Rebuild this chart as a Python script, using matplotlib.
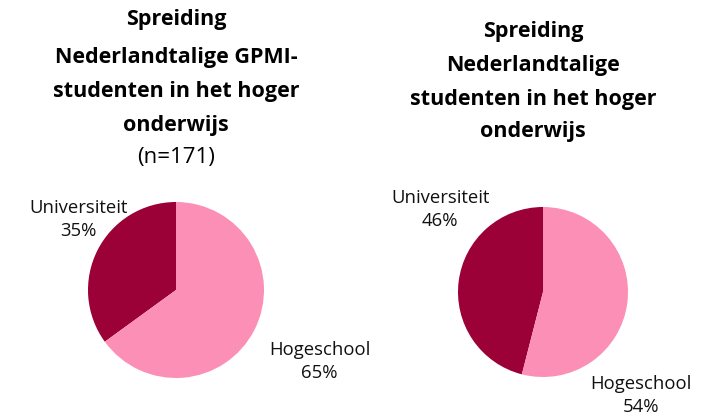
import matplotlib.pyplot as plt

plt.rcParams['font.family'] = ['Open Sans', 'Noto Sans', 'DejaVu Sans']

# data
categories = ['Universiteit', 'Hogeschool']
gpmi_share = [35, 65]
all_share = [46, 54]
colors = ['#9B0036', '#FC8FB5']

W, H = 709, 418
fig = plt.figure(figsize=(W / 100, H / 100), dpi=100)


def px_axes(cx, cy, r):
    # axes square around pie centre given in pixels (y from top)
    return fig.add_axes([(cx - r) / W, (H - cy - r) / H, 2 * r / W, 2 * r / H])


def draw_pie(ax, values, label_pos):
    ax.pie(values, colors=colors, startangle=90, counterclock=True,
           wedgeprops=dict(linewidth=0))
    ax.set_xlim(-1, 1)
    ax.set_ylim(-1, 1)
    ax.set_aspect('equal')
    for cat, val, (x, y) in zip(categories, values, label_pos):
        ax.text(x, y, f'{cat}\n{val}%', ha='center', va='center',
                fontsize=13.3, color='#111111', linespacing=1.35, clip_on=False)


ax1 = px_axes(176, 290, 88)
draw_pie(ax1, gpmi_share, [(-1.11, 0.80), (1.63, -0.81)])

ax2 = px_axes(543, 292, 85)
draw_pie(ax2, all_share, [(-1.21, 0.97), (1.15, -1.22)])

# titles, one line at a time
left_lines = ['Spreiding', 'Nederlandtalige GPMI-', 'studenten in het hoger', 'onderwijs']
left_y = [19, 58, 91, 125]
for txt, y in zip(left_lines, left_y):
    fig.text(176 / W, 1 - y / H, txt, ha='center', va='center',
             fontsize=15.5, fontweight='bold')
fig.text(176 / W, 1 - 158 / H, '(n=171)', ha='center', va='center', fontsize=16)

right_lines = ['Spreiding', 'Nederlandtalige', 'studenten in het hoger', 'onderwijs']
right_y = [32, 65, 99, 132]
for txt, y in zip(right_lines, right_y):
    fig.text(533 / W, 1 - y / H, txt, ha='center', va='center',
             fontsize=15.5, fontweight='bold')

fig.savefig('out.png', dpi=100)
